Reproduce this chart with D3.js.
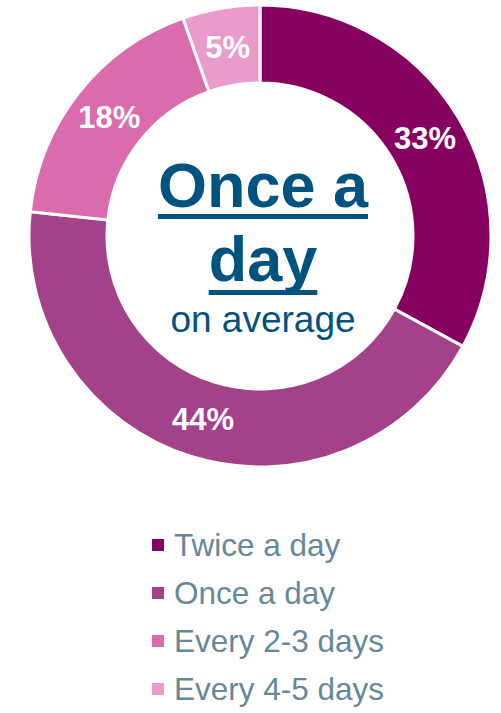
<!DOCTYPE html>
<html><head><meta charset="utf-8">
<script src="https://cdn.jsdelivr.net/npm/d3@7"></script>
<style>html,body{margin:0;padding:0;background:#fff;}svg{display:block;}</style>
</head><body>
<svg id="chart" width="501" height="713"></svg>
<script>
const categories = ["Twice a day", "Once a day", "Every 2-3 days", "Every 4-5 days"];
const values = [32.9, 43.7, 17.9, 5.4];
const labels = ["33%", "44%", "18%", "5%"];
const colors = ["#85005F", "#A3418A", "#DA6BAD", "#E99CCB"];
const centerTitle = ["Once a", "day"];
const centerSub = "on average";

const svg = d3.select("#chart");
const cx = 260, cy = 236, outerR = 231, innerR = 153;
const font = "'Liberation Sans', Arial, sans-serif";

const pie = d3.pie().sort(null).value(d => d)(values);
const arc = d3.arc().innerRadius(innerR).outerRadius(outerR);
const g = svg.append("g").attr("transform", `translate(${cx},${cy})`);

g.selectAll("path.slice").data(pie).join("path")
  .attr("class", "slice")
  .attr("d", arc)
  .attr("fill", (d, i) => colors[i])
  .attr("stroke", "#fff").attr("stroke-width", 3);

const labelArc = d3.arc().innerRadius(192).outerRadius(192);
g.selectAll("text.pct").data(pie).join("text")
  .attr("class", "pct")
  .attr("transform", d => `translate(${labelArc.centroid(d)})`)
  .attr("text-anchor", "middle").attr("dy", "0.36em")
  .attr("font-family", font).attr("font-weight", "bold").attr("font-size", 31)
  .attr("fill", "#fff")
  .text((d, i) => labels[i]);

// center text
const blue = "#00527F";
const titleBaselines = [207, 281];
const underlineY = [214, 290];
centerTitle.forEach((t, i) => {
  const txt = svg.append("text")
    .attr("x", 263).attr("y", titleBaselines[i])
    .attr("text-anchor", "middle")
    .attr("font-family", font).attr("font-weight", "bold").attr("font-size", 63)
    .attr("fill", blue).text(t);
  const w = txt.node().getComputedTextLength();
  svg.append("rect")
    .attr("x", 263 - w / 2).attr("y", underlineY[i])
    .attr("width", w).attr("height", 5).attr("fill", blue);
});
svg.append("text")
  .attr("x", 263).attr("y", 332)
  .attr("text-anchor", "middle")
  .attr("font-family", font).attr("font-size", 37)
  .attr("fill", blue).text(centerSub);

// legend
const legendY = d3.scalePoint().domain(categories).range([545, 689]);
const lg = svg.append("g");
const items = lg.selectAll("g").data(categories).join("g")
  .attr("transform", d => `translate(0,${legendY(d)})`);
items.append("rect").attr("x", 152).attr("y", -6).attr("width", 12).attr("height", 12)
  .attr("fill", (d, i) => colors[i]);
items.append("text").attr("x", 174).attr("y", 11)
  .attr("font-family", font).attr("font-size", 31.5)
  .attr("fill", "#668899").text(d => d);
</script>
</body></html>
